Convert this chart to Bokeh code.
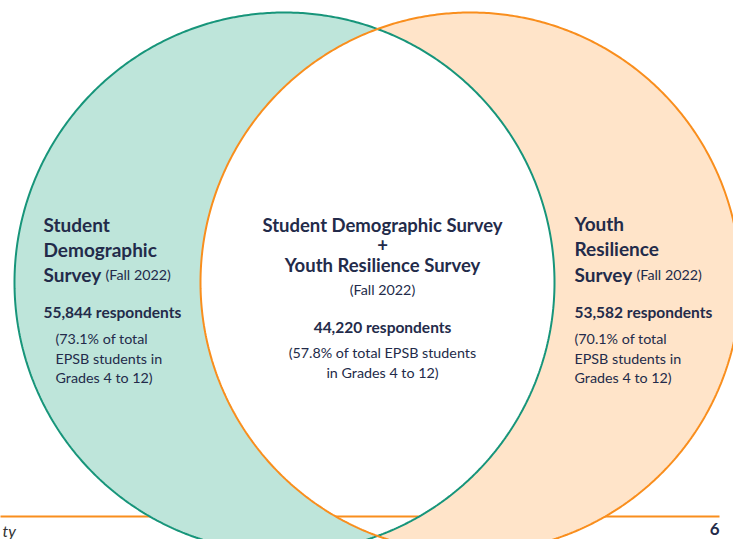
import numpy as np
from bokeh.plotting import figure
from bokeh.models import Range1d
from bokeh.core.properties import value
from bokeh.embed import file_html
from bokeh.resources import INLINE

# ---- data ----
set_names = ["Student Demographic Survey", "Youth Resilience Survey"]
set_period = "(Fall 2022)"
left_count = "55,844 respondents"
right_count = "53,582 respondents"
both_count = "44,220 respondents"
left_pct = ["(73.1% of total", "EPSB students in", "Grades 4 to 12)"]
right_pct = ["(70.1% of total", "EPSB students in", "Grades 4 to 12)"]
both_pct = ["(57.8% of total EPSB students", "in Grades 4 to 12)"]
page_number = "6"
footer_fragment = "ty"

# geometry (screen-like coordinates, y downward)
centers_x = [285.0, 471.0]
center_y = 283.0
radius = 270.0

FONT = "Lato"
NAVY = "#232b4a"
TEAL_FILL = "#bee5da"
TEAL_LINE = "#17957a"
PEACH_FILL = "#ffe4c9"
ORANGE = "#f98e1d"

W, H = 733, 539
p = figure(width=W, height=H, output_backend="svg", toolbar_location=None,
           x_range=Range1d(1, 1 + W), y_range=Range1d(1 + H, 1),
           min_border=0, outline_line_color=None)
p.axis.visible = False
p.grid.visible = False
p.background_fill_color = "white"
p.border_fill_color = "white"

# footer rule (behind the circles)
p.line([0, 720], [517, 517], line_color=ORANGE, line_width=2)

# crescents
cl, cr = centers_x
half = (cr - cl) / 2.0
a = np.arccos(half / radius)
phi = np.linspace(a, 2 * np.pi - a, 300)
psi = np.linspace(np.pi + a, np.pi - a, 300)
lx = np.concatenate([cl + radius * np.cos(phi), cr + radius * np.cos(psi)])
ly = np.concatenate([center_y + radius * np.sin(phi), center_y + radius * np.sin(psi)])
psi2 = np.linspace(np.pi + a, 3 * np.pi - a, 300)
phi2 = np.linspace(a, -a, 300)
rx = np.concatenate([cr + radius * np.cos(psi2), cl + radius * np.cos(phi2)])
ry = np.concatenate([center_y + radius * np.sin(psi2), center_y + radius * np.sin(phi2)])
p.patch(lx, ly, fill_color=TEAL_FILL, line_color=None)
p.patch(rx, ry, fill_color=PEACH_FILL, line_color=None)

# outlines
t = np.linspace(0, 2 * np.pi, 720)
p.line(cl + radius * np.cos(t), center_y + radius * np.sin(t), line_color=TEAL_LINE, line_width=2)
p.line(cr + radius * np.cos(t), center_y + radius * np.sin(t), line_color=ORANGE, line_width=2)

def txt(x, y, s, size, bold=False, align="left", color=NAVY, italic=False):
    style = "bold" if bold else ("italic" if italic else "normal")
    p.text(x=[x], y=[y], text=[s], text_font=value(FONT), text_font_size=f"{size}px",
           text_font_style=style, text_align=align,
           text_baseline="alphabetic", text_color=color)

REG = 14.3
CNT = 15.5
# left set
lw = set_names[0].split(" ")
txt(44, 225, lw[0], 19, True)
txt(44, 250, lw[1], 19, True)
txt(44, 275, lw[2], 19, True)
txt(106, 275, set_period, REG)
txt(44, 312, left_count, CNT, True)
for i, s in enumerate(left_pct):
    txt(56, 339 + 19.5 * i, s, REG)

# right set
rw = set_names[1].split(" ")
txt(575, 224, rw[0], 19, True)
txt(575, 249, rw[1], 19, True)
txt(575, 275, rw[2], 19, True)
txt(637, 275, set_period, REG)
txt(575, 312, right_count, CNT, True)
for i, s in enumerate(right_pct):
    txt(575, 339 + 19.5 * i, s, REG)

# intersection
txt(383, 225, set_names[0], 18.5, True, "center")
txt(383, 245, "+", 18.5, True, "center")
txt(383, 265, set_names[1], 18.5, True, "center")
txt(383, 290, set_period, REG, False, "center")
txt(383, 327, both_count, CNT, True, "center")
txt(383, 353, both_pct[0], REG, False, "center")
txt(383, 373, both_pct[1], REG, False, "center")

# page footer
txt(720, 529, page_number, 17, True, "right")
txt(3, 531, footer_fragment, 16, False, "left", "#333333", italic=True)

open("out.html", "w").write(file_html(p, INLINE))
